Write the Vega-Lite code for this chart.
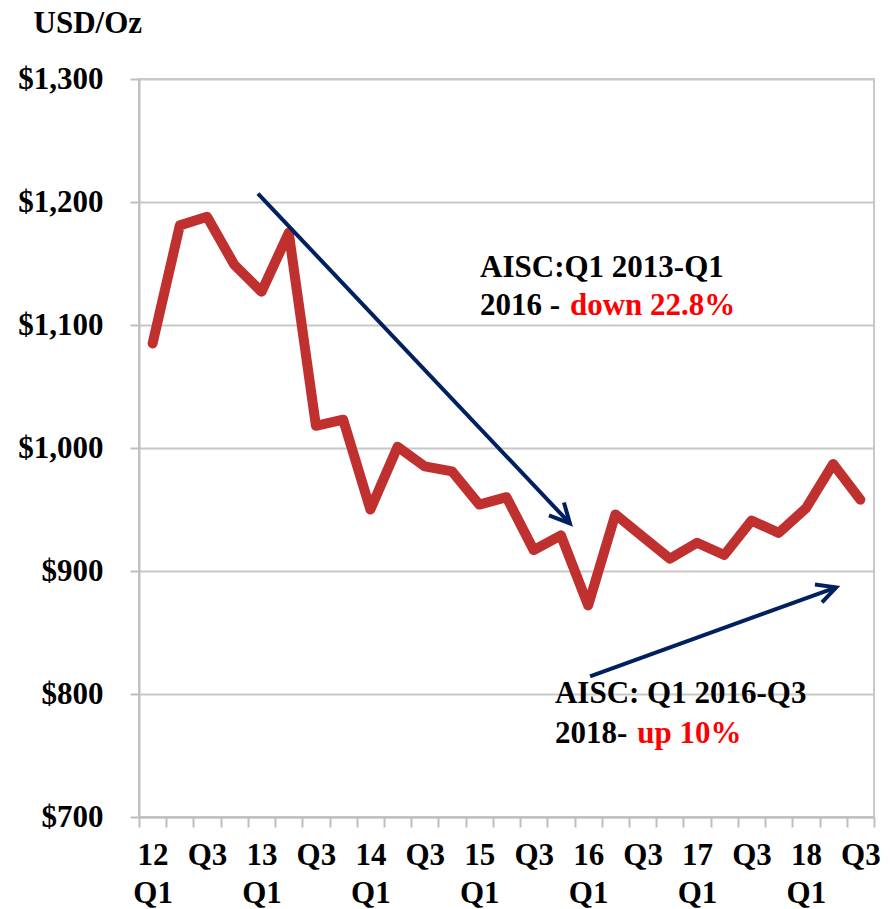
{
  "$schema": "https://vega.github.io/schema/vega-lite/v6.json",
  "width": 735,
  "height": 738,
  "autosize": {"type": "none"},
  "padding": {"left": 139, "top": 79, "right": 19, "bottom": 92},
  "background": "white",
  "config": {
    "view": {"stroke": "#C8C8C8", "strokeWidth": 2},
    "font": "Liberation Serif"
  },
  "datasets": {
    "cost": [
      {"q": "12Q1", "i": 0, "v": 1085},
      {"q": "12Q2", "i": 1, "v": 1181},
      {"q": "12Q3", "i": 2, "v": 1188},
      {"q": "12Q4", "i": 3, "v": 1149},
      {"q": "13Q1", "i": 4, "v": 1127},
      {"q": "13Q2", "i": 5, "v": 1175},
      {"q": "13Q3", "i": 6, "v": 1018},
      {"q": "13Q4", "i": 7, "v": 1023},
      {"q": "14Q1", "i": 8, "v": 950},
      {"q": "14Q2", "i": 9, "v": 1001},
      {"q": "14Q3", "i": 10, "v": 985},
      {"q": "14Q4", "i": 11, "v": 981},
      {"q": "15Q1", "i": 12, "v": 954},
      {"q": "15Q2", "i": 13, "v": 960},
      {"q": "15Q3", "i": 14, "v": 917},
      {"q": "15Q4", "i": 15, "v": 929},
      {"q": "16Q1", "i": 16, "v": 872},
      {"q": "16Q2", "i": 17, "v": 946},
      {"q": "16Q3", "i": 18, "v": 928},
      {"q": "16Q4", "i": 19, "v": 910},
      {"q": "17Q1", "i": 20, "v": 923},
      {"q": "17Q2", "i": 21, "v": 913},
      {"q": "17Q3", "i": 22, "v": 941},
      {"q": "17Q4", "i": 23, "v": 931},
      {"q": "18Q1", "i": 24, "v": 951},
      {"q": "18Q2", "i": 25, "v": 987},
      {"q": "18Q3", "i": 26, "v": 958}
    ],
    "arrows": [
      {"path": "a1", "o": 1, "i": 3.87, "v": 1206.8},
      {"path": "a1", "o": 2, "i": 15.33, "v": 938.7},
      {"path": "h1", "o": 1, "i": 15.11, "v": 955.7},
      {"path": "h1", "o": 2, "i": 15.33, "v": 938.7},
      {"path": "h1", "o": 3, "i": 14.56, "v": 945.2},
      {"path": "a2", "o": 1, "i": 16.07, "v": 814.4},
      {"path": "a2", "o": 2, "i": 25.11, "v": 886.7},
      {"path": "h2", "o": 1, "i": 24.33, "v": 889.1},
      {"path": "h2", "o": 2, "i": 25.11, "v": 886.7},
      {"path": "h2", "o": 3, "i": 24.59, "v": 874.5}
    ],
    "notes": [
      {"kind": "black", "i": 12.03, "v": 1139, "text": "AISC:Q1 2013-Q1"},
      {"kind": "black", "i": 12.03, "v": 1108, "text": "2016 -"},
      {"kind": "red", "i": 15.33, "v": 1108, "text": "down 22.8%"},
      {"kind": "black", "i": 14.78, "v": 793, "text": "AISC: Q1 2016-Q3"},
      {"kind": "black", "i": 14.78, "v": 760.5, "text": "2018-"},
      {"kind": "red", "i": 17.8, "v": 760.5, "text": "up 10%"}
    ]
  },
  "encoding": {
    "x": {
      "field": "i",
      "type": "quantitative",
      "scale": {"domain": [-0.5, 26.5], "zero": false, "nice": false},
      "axis": {
        "orient": "bottom",
        "title": null,
        "values": [-0.5, 0.5, 1.5, 2.5, 3.5, 4.5, 5.5, 6.5, 7.5, 8.5, 9.5, 10.5, 11.5, 12.5, 13.5, 14.5, 15.5, 16.5, 17.5, 18.5, 19.5, 20.5, 21.5, 22.5, 23.5, 24.5, 25.5, 26.5],
        "grid": false,
        "domainColor": "#BFBFBF",
        "domainWidth": 2,
        "tickColor": "#BFBFBF",
        "tickWidth": 2,
        "tickSize": 10,
        "labelPadding": 13,
        "labelOffset": 13.6,
        "labelAlign": "center",
        "labelFont": "Liberation Serif",
        "labelFontSize": 31,
        "labelFontWeight": "bold",
        "labelColor": "black",
        "labelLineHeight": 38,
        "labelAngle": 0,
        "labelOverlap": false,
        "labelBound": false,
        "labelFlush": false,
        "labelExpr": "datum.value > 26 ? '' : ((datum.value + 0.5) % 4 == 0 ? ['' + (12 + floor((datum.value + 0.5) / 4)), 'Q1'] : ((datum.value + 0.5) % 4 == 2 ? 'Q3' : ''))"
      }
    },
    "y": {
      "field": "v",
      "type": "quantitative",
      "scale": {"domain": [700, 1300], "zero": false, "nice": false},
      "axis": {
        "values": [700, 800, 900, 1000, 1100, 1200, 1300],
        "format": "$,.0f",
        "grid": true,
        "gridColor": "#C8C8C8",
        "gridWidth": 2,
        "domainColor": "#BFBFBF",
        "domainWidth": 2,
        "tickColor": "#BFBFBF",
        "tickWidth": 2,
        "tickSize": 9,
        "labelPadding": 27,
        "labelFont": "Liberation Serif",
        "labelFontSize": 31,
        "labelFontWeight": "bold",
        "labelColor": "black",
        "title": "USD/Oz",
        "titleAngle": 0,
        "titleAlign": "left",
        "titleBaseline": "alphabetic",
        "titleX": -106,
        "titleY": -47,
        "titleFont": "Liberation Serif",
        "titleFontSize": 31,
        "titleFontWeight": "bold",
        "titleColor": "black"
      }
    }
  },
  "layer": [
    {
      "data": {"name": "cost"},
      "mark": {"type": "line", "color": "#C0302F", "strokeWidth": 10, "strokeCap": "round", "strokeJoin": "round"},
      "encoding": {}
    },
    {
      "data": {"name": "arrows"},
      "mark": {"type": "line", "color": "#002060", "strokeWidth": 4},
      "encoding": {
        "detail": {"field": "path"},
        "order": {"field": "o"}
      }
    },
    {
      "data": {"name": "notes"},
      "transform": [{"filter": "datum.kind == 'black'"}],
      "mark": {"type": "text", "align": "left", "baseline": "alphabetic", "font": "Liberation Serif", "fontSize": 31, "fontWeight": "bold", "color": "black"},
      "encoding": {"text": {"field": "text"}}
    },
    {
      "data": {"name": "notes"},
      "transform": [{"filter": "datum.kind == 'red'"}],
      "mark": {"type": "text", "align": "left", "baseline": "alphabetic", "font": "Liberation Serif", "fontSize": 31, "fontWeight": "bold", "color": "#FF0000"},
      "encoding": {"text": {"field": "text"}}
    }
  ]
}
